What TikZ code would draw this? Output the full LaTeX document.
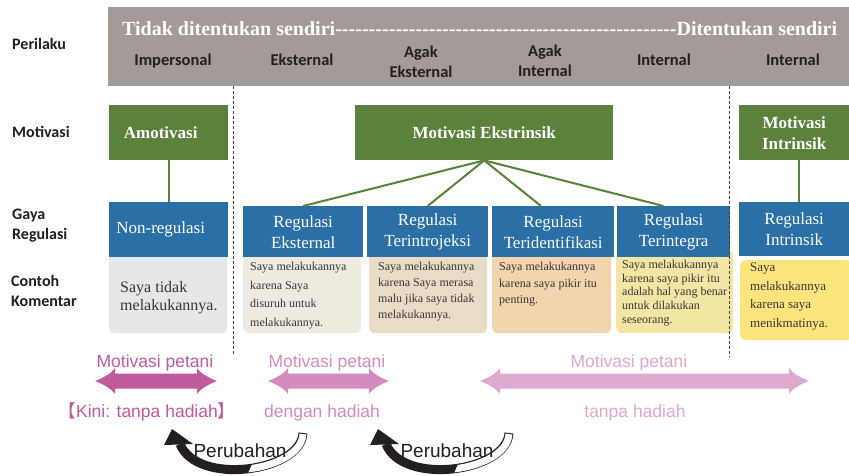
\documentclass[tikz,border=0pt]{standalone}
\usepackage{fontspec}
\setmainfont{Liberation Serif}
\newfontfamily\labfont{Carlito}
\newfontfamily\rndfont{Liberation Sans}
\newfontfamily\cjkfont{Noto Sans CJK SC}
\usetikzlibrary{calc}
\newcommand\fsz[2]{\fontsize{#1}{#2}\selectfont}

\definecolor{bandgray}{HTML}{A39B98}
\definecolor{mgreen}{HTML}{5A823B}
\definecolor{mblue}{HTML}{2A6FA5}
\definecolor{ink}{HTML}{231F20}
\definecolor{cmtink}{HTML}{3A3535}
\definecolor{cNon}{HTML}{E6E7E9}
\definecolor{cEks}{HTML}{EFEADF}
\definecolor{cIntro}{HTML}{E9DCC7}
\definecolor{cIdent}{HTML}{F2D4AF}
\definecolor{cInteg}{HTML}{F3E6A5}
\definecolor{cIntr}{HTML}{FCE47D}
\definecolor{pinkA}{HTML}{C25A9E}
\definecolor{pinkB}{HTML}{D48CBF}
\definecolor{pinkC}{HTML}{DDA9CE}

\tikzset{
  rowlabel/.style={align=left, text=ink, font=\labfont\bfseries\fsz{16}{20}, inner sep=0},
  colhead/.style={align=center, text=ink, font=\labfont\bfseries\fsz{16.5}{20}, inner sep=0},
  motbox/.style={fill=mgreen, text=white, font=\bfseries\fsz{17}{21}, align=center, inner sep=0, anchor=north west},
  regbox/.style={fill=mblue, text=white, font=\fsz{17}{21}, align=center, inner sep=0, anchor=north west},
  cmtbox/.style={rounded corners=6pt, anchor=north west, inner sep=0},
  cmttext/.style={anchor=north west, align=left, inner sep=0, text=cmtink},
  link/.style={mgreen, line width=2pt},
  divider/.style={ink!85, line width=1pt, dash pattern=on 3pt off 2pt},
  pinklabel/.style={font=\rndfont\fsz{17.5}{20}, inner sep=0, anchor=base},
  swooshlabel/.style={font=\rndfont\fsz{19}{22}, text=ink, inner sep=0, anchor=base},
}

% double-headed broad arrow: left tip x, right tip x, centre y, colour
\newcommand\dblarrow[4]{%
  \fill[#4] (#1,#3) .. controls ({#1+8},{#3-3}) and ({#1+17},{#3-8}) .. ({#1+20},{#3-13})
    -- ({#1+20},{#3-7.5}) -- ({#2-20},{#3-7.5}) -- ({#2-20},{#3-13})
    .. controls ({#2-17},{#3-8}) and ({#2-8},{#3-3}) .. (#2,#3)
    .. controls ({#2-8},{#3+3}) and ({#2-17},{#3+8}) .. ({#2-20},{#3+13})
    -- ({#2-20},{#3+7.5}) -- ({#1+20},{#3+7.5}) -- ({#1+20},{#3+13})
    .. controls ({#1+17},{#3+8}) and ({#1+8},{#3+3}) .. cycle;}

% curved "change" arrow: hollow tail turning into a solid head
\newcommand\swoosh{%
  \draw[ink, line width=9pt] (303,433) .. controls (301,472) and (197,486) .. (180,444);
  \begin{scope}
    \clip (240,492) -- (256,455) -- (256,400) -- (340,400) -- (340,492) -- cycle;
    \draw[white, line width=7pt, shorten <=1pt] (303,433) .. controls (301,472) and (197,486) .. (180,444);
  \end{scope}
  \fill[ink] (172,429) -- (164,445) -- (193,444) -- cycle;}

\begin{document}
\begin{tikzpicture}[x=1pt, y=-1pt]
\useasboundingbox (0,0) rectangle (849,475);
\fill[white] (0,0) rectangle (849,475);

% header band
\node[fill=bandgray, anchor=north west, minimum width=741pt, minimum height=79pt, inner sep=0] (band) at (108,7) {};
\node[anchor=base west, text=white, font=\bfseries\fsz{20}{24}, inner sep=0] (scale) at (122,35)
  {\hbox to 715pt{Tidak ditentukan sendiri\xleaders\hbox{-}\hfill Ditentukan sendiri}};
\node[colhead, anchor=base] (hImp) at (173,65) {Impersonal};
\node[colhead, anchor=base] (hEks) at (302,65) {Eksternal};
\node[colhead] (hAgE) at (421,62) {Agak\\Eksternal};
\node[colhead] (hAgI) at (545,61) {Agak\\Internal};
\node[colhead, anchor=base] (hInt) at (664,65) {Internal};
\node[colhead, anchor=base] (hIntr) at (793,65) {Internal};

% row labels
\node[rowlabel, anchor=base west] (lPer) at (12,49) {Perilaku};
\node[rowlabel, anchor=base west] (lMot) at (12,137) {Motivasi};
\node[rowlabel, anchor=west] (lGaya) at (12,226) {Gaya\\Regulasi};
\node[rowlabel, anchor=west] (lKom) at (11,291) {Contoh\\Komentar};

% motivation boxes
\node[motbox, minimum width=119pt, minimum height=55pt] (amot) at (109,105) {\hspace*{-16pt}Amotivasi};
\node[motbox, minimum width=258pt, minimum height=55pt] (ekstr) at (355,105) {Motivasi Ekstrinsik};
\node[motbox, minimum width=110pt, minimum height=55pt] (intrm) at (739,105) {Motivasi\\Intrinsik};

% comment boxes
\node[cmtbox, fill=cNon, minimum width=118pt, minimum height=83pt] (kNon) at (109,250) {};
\node[cmtbox, fill=cEks, minimum width=118pt, minimum height=83pt] (kEks) at (243,250) {};
\node[cmtbox, fill=cIntro, minimum width=118pt, minimum height=83pt] (kIntro) at (369,250) {};
\node[cmtbox, fill=cIdent, minimum width=119pt, minimum height=83pt] (kIdent) at (492,250) {};
\node[cmtbox, fill=cInteg, minimum width=117pt, minimum height=83pt] (kInteg) at (616,250) {};
\node[cmtbox, fill=cIntr, minimum width=112pt, minimum height=80pt] (kIntr) at (740,260) {};

\node[cmttext, font=\fsz{16}{18}] (tNon) at (120,281) {Saya tidak\\melakukannya.};
\node[cmttext, font=\fsz{12}{18.7}] (tEks) at (250,261.8) {Saya melakukannya\\karena Saya\\disuruh untuk\\melakukannya.};
\node[cmttext, font=\fsz{12}{16}] (tIntro) at (378,261.8) {Saya melakukannya\\karena Saya merasa\\malu jika saya tidak\\melakukannya.};
\node[cmttext, font=\fsz{12}{16.7}] (tIdent) at (499,261.8) {Saya melakukannya\\karena saya pikir itu\\penting.};
\node[cmttext, font=\fsz{12}{13.6}] (tInteg) at (622,260.1) {Saya melakukannya\\karena saya pikir itu\\adalah hal yang benar\\untuk dilakukan\\seseorang.};
\node[cmttext, font=\fsz{13}{18.5}] (tIntr) at (750,262.8) {Saya\\melakukannya\\karena saya\\menikmatinya.};

% regulation boxes
\node[regbox, minimum width=119pt, minimum height=55pt] (nonreg) at (109,202) {\hspace*{-16pt}Non-regulasi};
\node[regbox, minimum width=120pt, minimum height=51pt] (rEks) at (243,206) {Regulasi\\Eksternal};
\node[regbox, minimum width=121pt, minimum height=51pt] (rIntro) at (367,206) {Regulasi\\Terintrojeksi};
\node[regbox, minimum width=122pt, minimum height=51pt] (rIdent) at (492,206) {Regulasi\\Teridentifikasi};
\node[regbox, minimum width=113pt, minimum height=51pt] (rInteg) at (617,206) {Regulasi\\Terintegra};
\node[regbox, minimum width=110pt, minimum height=54pt] (rIntr) at (739,202) {Regulasi\\Intrinsik};

% connectors
\draw[link] (amot.south) -- (nonreg.north);
\draw[link] ($(intrm.south west)!0.54!(intrm.south east)$) -- ($(rIntr.north west)!0.54!(rIntr.north east)$);
\draw[link] ($(ekstr.south west)!0.5!(ekstr.south east)$) coordinate (fan) -- (rEks.north);
\draw[link] (fan) -- (rIntro.north);
\draw[link] (fan) -- ($(rIdent.north west)!0.4!(rIdent.north east)$);
\draw[link] (fan) -- ($(rInteg.north west)!0.41!(rInteg.north east)$);

% dividers
\draw[divider] (233,86) -- (233,355);
\draw[divider] (729,86) -- (729,357);

% farmer motivation arrows
\node[pinklabel, text=pinkA] (mp1) at (155,367) {Motivasi petani};
\node[pinklabel, text=pinkB] (mp2) at (327,367) {Motivasi petani};
\node[pinklabel, text=pinkC] (mp3) at (629,367) {Motivasi petani};
\dblarrow{95}{217}{381}{pinkA}
\dblarrow{268}{389}{381}{pinkB}
\dblarrow{480}{809}{381}{pinkC}
\node[pinklabel, text=pinkA] (hd1) at (147,417) {{\cjkfont 【}Kini: tanpa hadiah{\cjkfont 】}};
\node[pinklabel, text=pinkB] (hd2) at (322,417) {dengan hadiah};
\node[pinklabel, text=pinkC] (hd3) at (635,417) {tanpa hadiah};

% change arrows
\swoosh
\begin{scope}[xshift=206pt]
\swoosh
\end{scope}
\node[swooshlabel] (ch1) at (240,457) {Perubahan};
\node[swooshlabel] (ch2) at (447,457) {Perubahan};
\end{tikzpicture}
\end{document}
